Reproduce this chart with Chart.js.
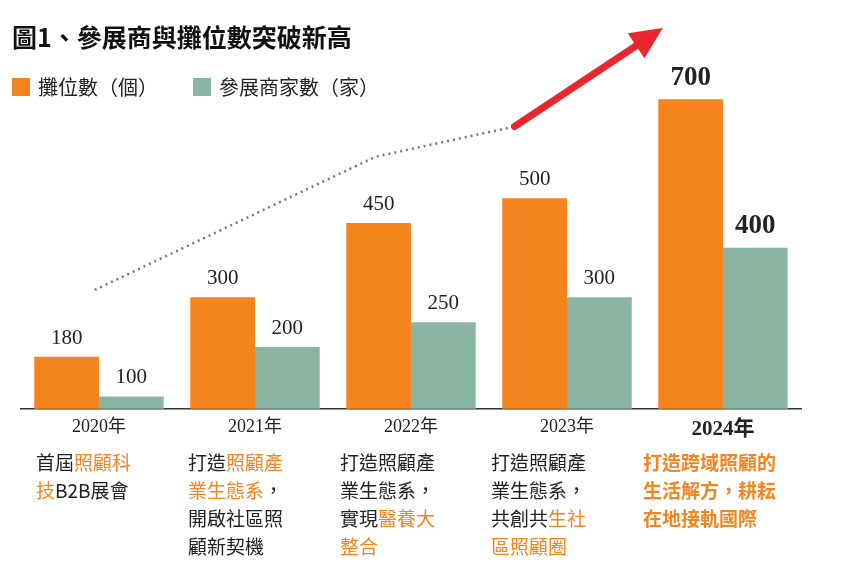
<!DOCTYPE html>
<html><head><meta charset="utf-8">
<script src="https://cdn.jsdelivr.net/npm/chart.js@4"></script>
<style>
body{margin:0;background:#fff;font-family:"Noto Sans CJK TC",sans-serif;}
#wrap{position:relative;width:842px;height:577px;overflow:hidden}
canvas{position:absolute;left:0;top:0}
.t{position:absolute;left:12px;top:18px;font-size:25px;font-weight:bold;color:#111}
.lg{position:absolute;top:72px;font-size:20px;color:#222;display:flex;align-items:center}
.lg i{display:inline-block;width:18px;height:18px;margin-right:8px}
.d{position:absolute;top:448px;font-size:19px;line-height:28px;color:#222;width:130px}
.o{color:#F5841F}
.b{font-weight:bold;color:#F5841F}
</style></head><body>
<div id="wrap">
<canvas id="c" width="842" height="577"></canvas>
<div class="t">圖1、參展商與攤位數突破新高</div>
<div class="lg" style="left:12px"><i style="background:#F5841F"></i>攤位數（個）</div>
<div class="lg" style="left:193px"><i style="background:#8AB5A3"></i>參展商家數（家）</div>
<div class="d" style="left:36px">首屆<span class="o">照顧科<br>技</span>B2B展會</div>
<div class="d" style="left:188px">打造<span class="o">照顧產<br>業生態系</span>，<br>開啟社區照<br>顧新契機</div>
<div class="d" style="left:340px">打造照顧產<br>業生態系，<br>實現<span class="o">醫養大<br>整合</span></div>
<div class="d" style="left:491px">打造照顧產<br>業生態系，<br>共創共<span class="o">生社<br>區照顧圈</span></div>
<div class="d b" style="left:643px;width:170px">打造跨域照顧的<br>生活解方，耕耘<br>在地接軌國際</div>
</div>
<script>
const years = ['2020年', '2021年', '2022年', '2023年', '2024年'];
const booths = [180, 300, 450, 500, 700];
const exhibitors = [100, 200, 250, 300, 400];
// decorative trend line and arrow, in axis units (x = category index)
const trendX = [-0.23, 1.75, 2.73];
const trendY = [315, 584, 645];
const arrowX = [2.73, 3.74];
const arrowY = [645, 837];

const labelPlugin = {
  id: 'labels',
  afterDatasetsDraw(chart) {
    const ctx = chart.ctx;
    const sx = chart.scales.x2, sy = chart.scales.y;
    [0, 1].forEach(di => {
      chart.getDatasetMeta(di).data.forEach((bar, i) => {
        const last = i === years.length - 1;
        ctx.font = (last ? 'bold 27px ' : '21px ') + '"Liberation Serif", serif';
        ctx.fillStyle = '#222';
        ctx.textAlign = 'center';
        ctx.textBaseline = 'bottom';
        ctx.fillText(chart.data.datasets[di].data[i], bar.x, bar.y - 8);
      });
    });
    // dotted trend
    ctx.save();
    ctx.strokeStyle = '#777';
    ctx.lineWidth = 2.5;
    ctx.setLineDash([2, 4]);
    ctx.beginPath();
    trendX.forEach((x, i) => {
      const px = sx.getPixelForValue(x), py = sy.getPixelForValue(trendY[i]);
      i ? ctx.lineTo(px, py) : ctx.moveTo(px, py);
    });
    ctx.stroke();
    ctx.restore();
    // arrow
    const ax = sx.getPixelForValue(arrowX[0]), ay = sy.getPixelForValue(arrowY[0]);
    const bx = sx.getPixelForValue(arrowX[1]), by = sy.getPixelForValue(arrowY[1]);
    const ang = Math.atan2(by - ay, bx - ax);
    ctx.save();
    ctx.strokeStyle = ctx.fillStyle = '#E8262B';
    ctx.lineWidth = 7;
    ctx.lineCap = 'round';
    ctx.beginPath();
    ctx.moveTo(ax, ay);
    ctx.lineTo(bx - 20 * Math.cos(ang), by - 20 * Math.sin(ang));
    ctx.stroke();
    ctx.translate(bx, by);
    ctx.rotate(ang);
    ctx.beginPath();
    ctx.moveTo(6, 0);
    ctx.lineTo(-26, -15);
    ctx.lineTo(-26, 15);
    ctx.closePath();
    ctx.fill();
    ctx.restore();
  }
};

new Chart(document.getElementById('c'), {
  type: 'bar',
  data: {
    labels: years,
    datasets: [
      { data: booths, backgroundColor: '#F5841F', categoryPercentage: 0.83, barPercentage: 1 },
      { data: exhibitors, backgroundColor: '#8AB5A3', categoryPercentage: 0.83, barPercentage: 1 }
    ]
  },
  options: {
    responsive: false,
    animation: false,
    layout: { padding: { left: 21, right: 41, top: 25, bottom: 127 } },
    plugins: { legend: { display: false }, tooltip: { enabled: false } },
    scales: {
      x: {
        grid: { display: false, drawTicks: false },
        border: { color: '#333', width: 1.5 },
        ticks: {
          color: '#222', padding: 8,
          font: c => ({ family: '"Liberation Serif", "Noto Sans CJK TC", serif', size: c.index === 4 ? 21 : 18, weight: c.index === 4 ? 'bold' : 'normal' })
        }
      },
      x2: { type: 'linear', display: false, min: -0.5, max: 4.5 },
      y: { display: false, min: 75, max: 850 }
    }
  },
  plugins: [labelPlugin]
});
</script>
</body></html>
